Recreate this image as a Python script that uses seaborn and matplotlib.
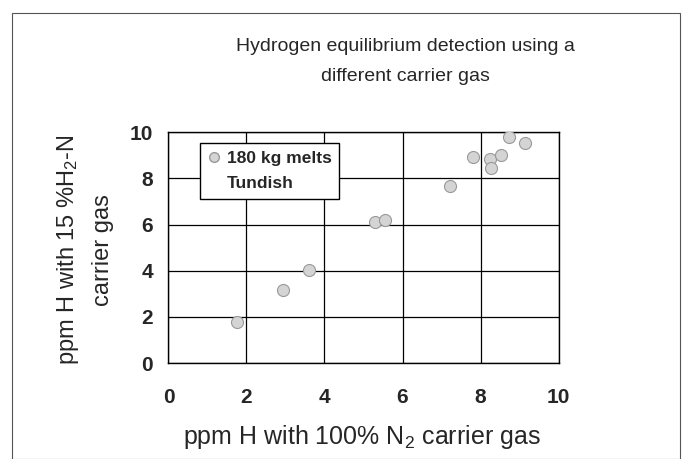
import pandas as pd
import numpy as np
import matplotlib.pyplot as plt
import matplotlib as mpl
import seaborn as sns
from matplotlib.lines import Line2D
from matplotlib.patches import Rectangle

sns.set_style('white')
mpl.rcParams['font.family'] = ['Liberation Sans', 'DejaVu Sans']
mpl.rcParams['mathtext.default'] = 'regular'

# ppm H
n2_ppm = [1.76, 2.93, 3.60, 5.30, 5.55, 7.23, 7.80, 8.23, 8.27, 8.53, 8.72, 9.14]
h2n_ppm = [1.76, 3.16, 4.03, 6.12, 6.19, 7.65, 8.93, 8.86, 8.43, 9.03, 9.78, 9.54]
ticks = [0, 2, 4, 6, 8, 10]

df = pd.DataFrame({'N2': n2_ppm, 'H2N': h2n_ppm})

fig = plt.figure(figsize=(6.82, 4.59), dpi=100)
ax = fig.add_axes([0.247, 0.209, 0.572, 0.503])

sns.scatterplot(data=df, x='N2', y='H2N', ax=ax, s=75, color='#d4d4d4',
                edgecolor='#999999', linewidth=0.8, zorder=3, legend=False)

ax.set_xlim(0, 10)
ax.set_ylim(0, 10)
ax.set_xticks(ticks)
ax.set_yticks(ticks)
ax.set_xticklabels([str(t) for t in ticks], fontsize=15, fontweight='bold')
ax.set_yticklabels([str(t) for t in ticks], fontsize=15, fontweight='bold')
ax.tick_params(axis='both', direction='out', length=6, width=1, color='black')
ax.tick_params(axis='x', pad=12)
ax.tick_params(axis='y', pad=5)
ax.grid(True, color='black', linewidth=0.9)
for sp in ax.spines.values():
    sp.set_color('black')
    sp.set_linewidth(1)

ax.set_xlabel('ppm H with 100% N$_2$ carrier gas', fontsize=18, va='center')
ax.xaxis.set_label_coords(0.495, -0.32)
ax.set_ylabel('ppm H with 15 %H$_2$-N\ncarrier gas', fontsize=17,
              va='center', linespacing=1.65)
ax.yaxis.set_label_coords(-0.215, 0.49)

handles = [Line2D([], [], marker='o', linestyle='none', markersize=7,
                  markerfacecolor='#d4d4d4', markeredgecolor='#999999'),
           Line2D([], [], marker='o', linestyle='none', markersize=7,
                  markerfacecolor='none', markeredgecolor='none')]
leg = ax.legend(handles, ['180 kg melts', 'Tundish'], loc='upper left',
                bbox_to_anchor=(0.08, 0.952), borderaxespad=0, fancybox=False,
                framealpha=1, edgecolor='black', handletextpad=0.3,
                handlelength=0.8, borderpad=0.45, labelspacing=0.55,
                prop={'size': 12.5, 'weight': 'bold'})
leg.get_frame().set_linewidth(1)

fig.text(0.594, 0.866, 'Hydrogen equilibrium detection using a\ndifferent carrier gas',
         ha='center', va='center', fontsize=14, linespacing=2.05)

fig.patches.append(Rectangle((12 / 682, 0), 668 / 682, 446.5 / 459,
                             transform=fig.transFigure, fill=False,
                             edgecolor='#555555', linewidth=0.8))

fig.savefig('out.png', dpi=100)
